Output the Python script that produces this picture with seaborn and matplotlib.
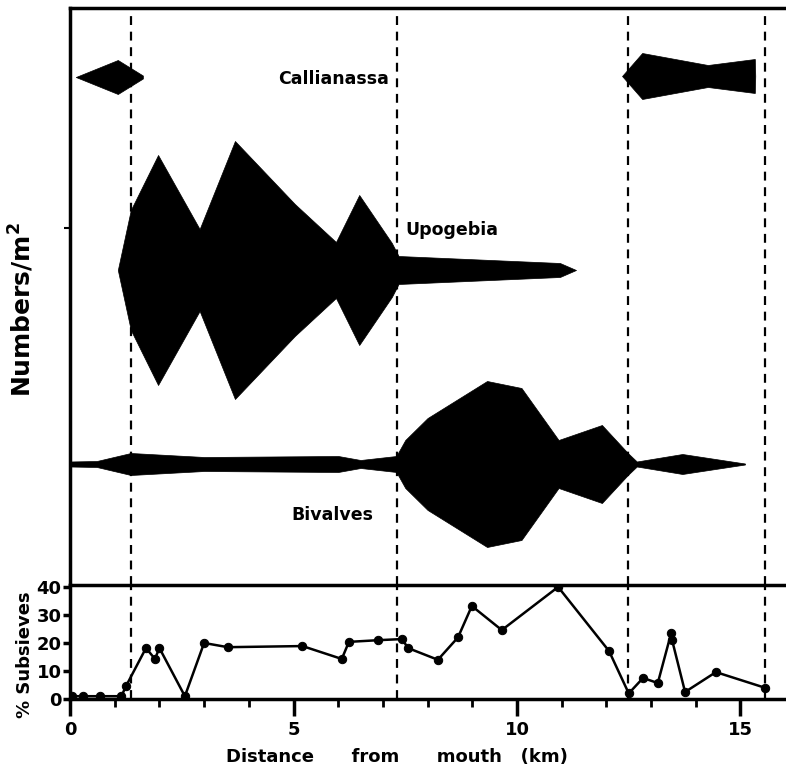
import numpy as np
import pandas as pd
import matplotlib
matplotlib.use("Agg")
import matplotlib.pyplot as plt
import seaborn as sns

sns.set_style("ticks")
plt.rcParams['font.family'] = ['DejaVu Sans']
plt.rcParams['font.weight'] = 'bold'
for k in ['text.color', 'axes.edgecolor', 'axes.labelcolor', 'xtick.color', 'ytick.color']:
    plt.rcParams[k] = 'black'

# kite diagrams: station distance (km) and half-width (numbers/m2, arbitrary units)
cal_left_km = [0.13, 1.07, 1.63]
cal_left_hw = [0, 17, 1.5]
cal_right_km = [12.35, 12.8, 14.27, 15.32, 15.33]
cal_right_hw = [0, 23, 11, 17, 0]

upo_km = [1.07, 1.36, 1.97, 2.9, 3.69, 5.03, 5.95, 6.47, 7.2, 7.35, 10.96, 11.32]
upo_hw = [0, 60, 115, 41, 129, 66, 28, 75, 27, 14, 7, 0]

biv_km = [0.0, 0.6, 1.36, 3.0, 6.0, 6.5, 7.3, 7.5, 8.0, 9.33, 10.1, 10.93, 11.9,
          12.48, 12.68, 13.7, 15.1]
biv_hw = [2.5, 3, 11, 7, 8, 4, 8, 24, 46, 83, 76, 24, 39, 11, 2.5, 10, 0.5]

# % subsieves
sub_km = [0.05, 0.3, 0.68, 1.15, 1.25, 1.7, 1.9, 2.0, 2.57, 3.0, 3.53, 5.2, 6.08,
          6.24, 6.9, 7.43, 7.56, 8.23, 8.68, 8.99, 9.66, 10.92, 12.06, 12.5,
          12.82, 13.15, 13.45, 13.47, 13.76, 14.45, 15.55]
sub_pct = [1, 1, 1, 1, 4.5, 18.2, 14.3, 18.2, 1, 20, 18.5, 18.9, 14.3,
           20.4, 21, 21.4, 18.2, 14, 22, 33.2, 24.6, 40, 17.1, 2,
           7.5, 5.7, 23.6, 21, 2.5, 9.6, 4]

boundaries = [1.36, 7.32, 12.48, 15.55]

fig = plt.figure(figsize=(7.86, 7.67), dpi=100)
ax_top = fig.add_axes([70/786, 1-585/767, 716/786, 577/767])
ax_bot = fig.add_axes([70/786, 1-699/767, 716/786, 114/767])

xmax = 716/44.7
base_cal, base_upo, base_biv = 508, 315, 121

def kite(ax, km, hw, base):
    km = np.array(km); hw = np.array(hw)
    ax.fill_between(km, base - hw, base + hw, color="black", lw=0.5, edgecolor="black")

kite(ax_top, cal_left_km, cal_left_hw, base_cal)
kite(ax_top, cal_right_km, cal_right_hw, base_cal + 1)
kite(ax_top, upo_km, upo_hw, base_upo)
kite(ax_top, biv_km, biv_hw, base_biv)

ax_top.text(5.9, 506, "Callianassa", ha="center", va="center", fontsize=12.5, fontweight="heavy")
ax_top.text(7.5, 355, "Upogebia", ha="left", va="center", fontsize=12.5, fontweight="heavy")
ax_top.text(5.88, 70, "Bivalves", ha="center", va="center", fontsize=12.5, fontweight="heavy")

ax_top.set_xlim(0, xmax)
ax_top.set_ylim(0, 577)
ax_top.set_xticks([])
ax_top.set_yticks([357])
ax_top.set_yticklabels([])
ax_top.tick_params(axis="y", direction="out", length=4, width=1.5)
for s in ["bottom", "right"]:
    ax_top.spines[s].set_visible(False)
for s in ["top", "left"]:
    ax_top.spines[s].set_linewidth(2.5)
ax_top.set_ylabel("Numbers/m$^{\\mathbf{2}}$", fontsize=18, fontweight="bold")
ax_top.yaxis.set_label_coords(-0.048, 0.478)

df = pd.DataFrame({"km": sub_km, "pct": sub_pct})
sns.lineplot(data=df, x="km", y="pct", ax=ax_bot, color="black", lw=1.8,
             marker="o", markersize=6, markeredgecolor="black", sort=False,
             estimator=None)
ax_bot.set_xlim(0, xmax)
ax_bot.set_ylim(0, 40.7)
ax_bot.set_yticks([0, 10, 20, 30, 40])
ax_bot.set_xticks([0, 5, 10, 15])
ax_bot.set_xticks(range(0, 16), minor=True)
ax_bot.tick_params(axis="x", which="major", direction="out", length=12, width=2.5,
                   labelsize=13, pad=4)
ax_bot.tick_params(axis="x", which="minor", direction="out", length=6, width=2)
ax_bot.tick_params(axis="y", direction="out", length=5, width=2.5, labelsize=13, pad=1)
for lab in ax_bot.get_xticklabels() + ax_bot.get_yticklabels():
    lab.set_fontweight("bold")
ax_bot.spines["right"].set_visible(False)
for s in ["top", "left", "bottom"]:
    ax_bot.spines[s].set_linewidth(2.5)
ax_bot.set_xlabel("Distance      from      mouth   (km)", fontsize=13, fontweight="bold")
ax_bot.xaxis.set_label_coords(0.456, -0.43)
ax_bot.set_ylabel("% Subsieves", fontsize=13, fontweight="bold")
ax_bot.yaxis.set_label_coords(-0.05, 0.386)

for ax in (ax_top, ax_bot):
    for b in boundaries:
        ax.axvline(b, color="black", ls=(0, (4, 3)), lw=1.6)

fig.savefig("out.png", dpi=100)
